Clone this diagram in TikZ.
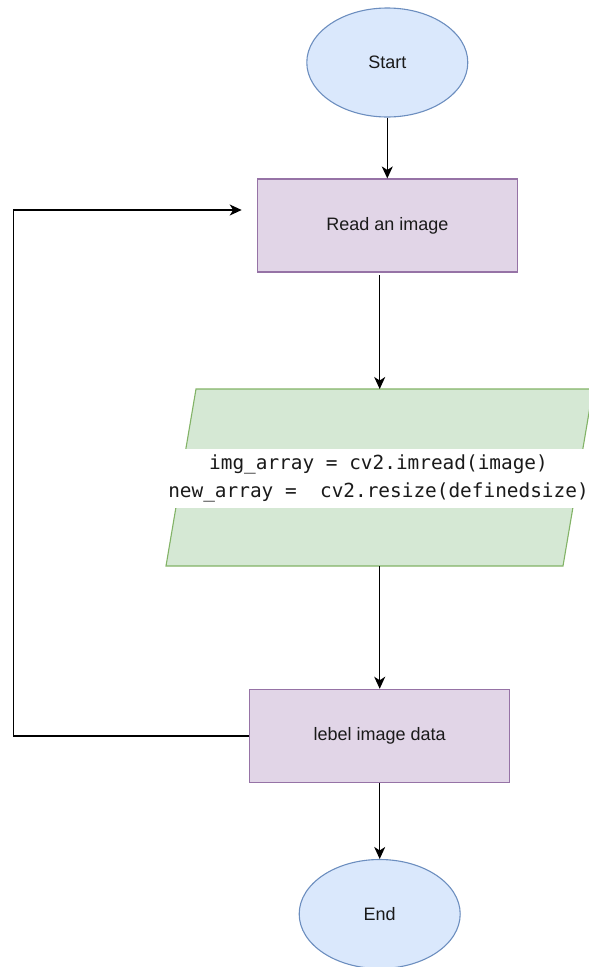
\documentclass[tikz,border=0pt]{standalone}
\usepackage{fontspec}
\setmainfont{Liberation Sans}
\newfontfamily\codefont{DejaVu Sans Mono}
\usetikzlibrary{shapes.geometric,arrows.meta}
\definecolor{bluefill}{HTML}{DAE8FC}
\definecolor{bluedraw}{HTML}{6C8EBF}
\definecolor{purpfill}{HTML}{E1D5E7}
\definecolor{purpdraw}{HTML}{9673A6}
\definecolor{greenfill}{HTML}{D5E8D4}
\definecolor{greendraw}{HTML}{82B366}
\definecolor{txt}{HTML}{1A1A1A}
\tikzset{
  terminal/.style={ellipse, draw=bluedraw, fill=bluefill, line width=1.1pt, inner sep=0pt,
    minimum width=161pt, minimum height=109pt, font=\fontsize{18}{21}\selectfont, text=txt},
  procbox/.style={rectangle, draw=purpdraw, fill=purpfill, line width=1.1pt, inner sep=0pt,
    minimum width=259.6pt, minimum height=93pt, font=\fontsize{18}{21}\selectfont, text=txt},
  iobox/.style={draw=greendraw, fill=greenfill, line width=1.1pt},
  codelabel/.style={fill=white, inner xsep=1.5pt, inner ysep=5.5pt, align=center,
    font=\codefont\fontsize{19.4}{28.7}\selectfont, text=txt},
  flow/.style={draw=black, line width=1.5pt, -{Stealth[length=12pt,width=11pt,inset=3.5pt]}},
}
\begin{document}
\begin{tikzpicture}[x=1pt,y=-1pt]
\useasboundingbox (0,0) rectangle (589,967);
% shapes
\node[terminal] (start) at (387.3,62.5) {Start};
\node[procbox] (read) at (387.3,225.5) {Read an image};
\draw[iobox] (196,389) -- (593,389) -- (563,566) -- (166,566) -- cycle;
\coordinate (ion) at (379.7,389);
\coordinate (ios) at (379.7,566);
\node[codelabel] (code) at (378.5,478.3) {img\_array = cv2.imread(image)\\new\_array =\ \ cv2.resize(definedsize)};
\node[procbox] (label) at (379.7,735.8) {lebel image data};
\node[terminal] (end) at (379.7,914) {End};
\coordinate (readout) at (379.7,275);
\coordinate (loopl) at (13.5,735.8);
\coordinate (loopt) at (13.5,210);
\coordinate (looptip) at (241.7,210);
% connectors
\draw[flow] (start.south) -- (read.north);
\draw[flow] (readout) -- (ion);
\draw[flow] (ios) -- (label.north);
\draw[flow] (label.south) -- (end.north);
\draw[flow] (label.west) -- (loopl) -- (loopt) -- (looptip);
\end{tikzpicture}
\end{document}
